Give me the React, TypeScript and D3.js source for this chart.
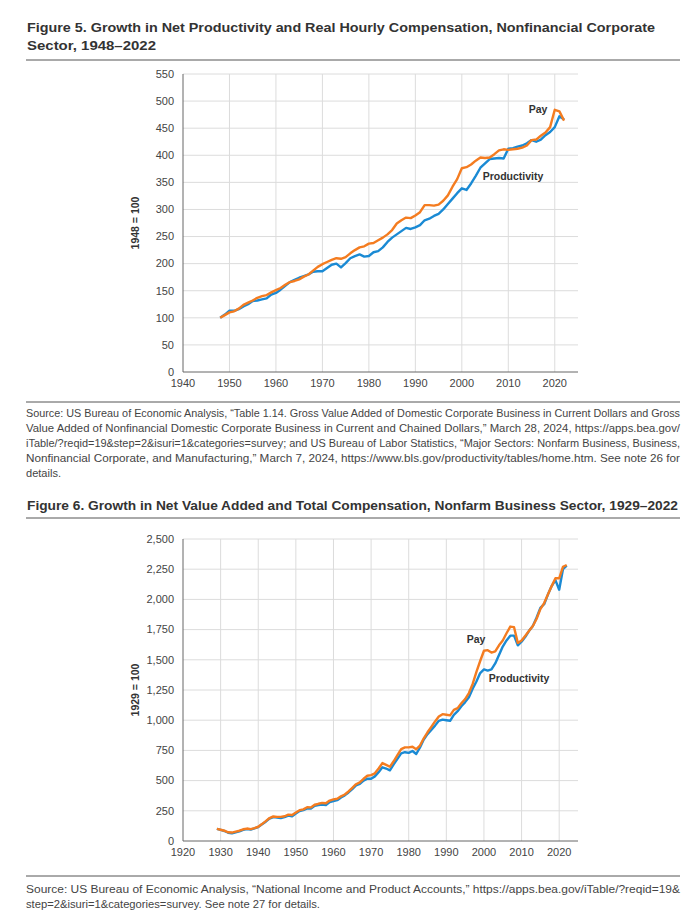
import * as d3 from "d3"

// Figure 5: 1948–2022, nonfinancial corporate sector (1948 = 100)
const years5 = d3.range(1948, 2023)
const productivity5 = [
  100, 106, 113, 113, 116, 121, 125, 131, 132, 134, 136, 143, 146, 152, 159, 166, 170, 174, 177, 180,
  185, 186, 186, 192, 198, 200, 193, 201, 210, 214, 217, 213, 214, 221, 223, 230, 240, 248, 254, 260,
  266, 264, 267, 271, 280, 283, 288, 292, 300, 310, 320, 330, 339, 336, 348, 362, 377, 385, 393, 394,
  395, 394, 412, 413, 416, 418, 422, 428, 425, 429, 437, 443, 452, 472, 466,
]
const pay5 = [
  100, 105, 110, 112, 117, 124, 128, 132, 137, 140, 142, 147, 151, 155, 161, 166, 168, 171, 176, 180,
  187, 194, 199, 203, 207, 210, 209, 212, 219, 225, 230, 232, 237, 238, 243, 248, 254, 262, 274, 280,
  285, 284, 289, 295, 308, 308, 307, 309, 316, 326, 342, 356, 376, 378, 383, 390, 396, 395, 396, 402,
  409, 411, 410, 411, 412, 414, 418, 428, 429, 436, 442, 452, 484, 481, 464,
]
const yTicks5 = d3.range(0, 551, 50)
const xTicks5 = d3.range(1940, 2021, 10)

// Figure 6: 1929–2022, nonfarm business sector (1929 = 100)
const years6 = d3.range(1929, 2023)
const pay6 = [
  100, 93, 85, 72, 70, 78, 85, 97, 103, 98, 107, 118, 140, 165, 190, 203, 200, 200, 205, 218,
  215, 235, 255, 262, 280, 278, 300, 308, 315, 312, 335, 345, 350, 370, 385, 410, 440, 470, 485, 515,
  540, 545, 560, 600, 645, 630, 615, 660, 710, 760, 775, 775, 780, 760, 790, 850, 900, 945, 990, 1030,
  1050, 1045, 1040, 1085, 1100, 1140, 1175, 1225, 1300, 1400, 1490, 1575, 1580, 1560, 1570, 1620, 1660, 1720, 1775, 1770,
  1640, 1660, 1700, 1740, 1780, 1840, 1920, 1970, 2040, 2110, 2175, 2175, 2270, 2285,
]
const productivity6 = [
  100, 92, 83, 68, 63, 72, 80, 92, 98, 95, 105, 115, 138, 160, 185, 198, 195, 190, 198, 210,
  205, 228, 248, 255, 270, 268, 292, 298, 302, 298, 322, 330, 338, 360, 378, 402, 430, 460, 472, 500,
  515, 515, 535, 570, 610, 600, 585, 635, 680, 725, 735, 730, 745, 720, 775, 840, 885, 920, 955, 995,
  1005, 1000, 995, 1045, 1075, 1115, 1150, 1190, 1260, 1320, 1390, 1420, 1410, 1420, 1470, 1540, 1610, 1660, 1700, 1700,
  1620, 1650, 1690, 1740, 1780, 1850, 1930, 1960, 2040, 2110, 2160, 2080, 2250, 2280,
]
const yTicks6 = d3.range(0, 2501, 250)
const xTicks6 = d3.range(1920, 2021, 10)

const source5 = [
  "Source: US Bureau of Economic Analysis, “Table 1.14. Gross Value Added of Domestic Corporate Business in Current Dollars and Gross",
  "Value Added of Nonfinancial Domestic Corporate Business in Current and Chained Dollars,” March 28, 2024, https://apps.bea.gov/",
  "iTable/?reqid=19&step=2&isuri=1&categories=survey; and US Bureau of Labor Statistics, “Major Sectors: Nonfarm Business, Business,",
  "Nonfinancial Corporate, and Manufacturing,” March 7, 2024, https://www.bls.gov/productivity/tables/home.htm. See note 26 for",
  "details.",
]
const source6 = [
  "Source: US Bureau of Economic Analysis, “National Income and Product Accounts,” https://apps.bea.gov/iTable/?reqid=19&",
  "step=2&isuri=1&categories=survey. See note 27 for details.",
]

const ORANGE = "#f47c20"
const BLUE = "#1a8ad4"
const GRID = "#dcdcdc"
const AXIS = "#666"
const TEXT = "#333"
const FONT = "'Liberation Sans', Arial, sans-serif"
const NARROW = "'Liberation Sans Narrow', 'Liberation Sans', Arial, sans-serif"

type PanelProps = {
  top: number
  bottom: number
  xDomain: [number, number]
  xTicks: number[]
  yMax: number
  yTicks: number[]
  yFormat: (v: number) => string
  yLabel: string
  years: number[]
  productivity: number[]
  pay: number[]
  payLabel: [number, number]
  prodLabel: [number, number]
}

function Panel(p: PanelProps) {
  const left = 183
  const right = 578
  const x = d3.scaleLinear().domain(p.xDomain).range([left, right])
  const y = d3.scaleLinear().domain([0, p.yMax]).range([p.bottom, p.top])
  const line = d3
    .line<number>()
    .x((_, i) => x(p.years[i]))
    .y((d) => y(d))
    .curve(d3.curveLinear)

  return (
    <g>
      {p.yTicks.map((t) => (
        <g key={"y" + t}>
          {t > 0 && <line x1={left} x2={right} y1={y(t)} y2={y(t)} stroke={GRID} strokeWidth={1} />}
          <text x={left - 9} y={y(t)} dy="0.35em" textAnchor="end" fontSize={11} fill="#444" fontFamily={FONT}>
            {p.yFormat(t)}
          </text>
        </g>
      ))}
      {p.xTicks.map((t) => (
        <g key={"x" + t}>
          {t > p.xDomain[0] && <line x1={x(t)} x2={x(t)} y1={p.top} y2={p.bottom} stroke={GRID} strokeWidth={1} />}
          <text x={x(t)} y={p.bottom + 15} textAnchor="middle" fontSize={11} fill="#444" fontFamily={FONT}>
            {t}
          </text>
        </g>
      ))}
      <line x1={left} x2={left} y1={p.top} y2={p.bottom} stroke={AXIS} strokeWidth={1} />
      <line x1={left} x2={right} y1={p.bottom} y2={p.bottom} stroke={AXIS} strokeWidth={1} />
      <text
        transform={`translate(135, ${(p.top + p.bottom) / 2}) rotate(-90)`}
        textAnchor="middle"
        dy="0.35em"
        fontSize={10.5}
        fontWeight={700}
        fill={TEXT}
        fontFamily={FONT}
      >
        {p.yLabel}
      </text>
      <path d={line(p.productivity) ?? ""} fill="none" stroke={BLUE} strokeWidth={2.4} strokeLinejoin="round" />
      <path d={line(p.pay) ?? ""} fill="none" stroke={ORANGE} strokeWidth={2.4} strokeLinejoin="round" />
      <text x={p.payLabel[0]} y={p.payLabel[1]} dy="0.35em" textAnchor="middle" fontSize={10.5} fontWeight={700} fill={TEXT} fontFamily={FONT}>
        Pay
      </text>
      <text x={p.prodLabel[0]} y={p.prodLabel[1]} dy="0.35em" textAnchor="middle" fontSize={10.5} fontWeight={700} fill={TEXT} fontFamily={FONT}>
        Productivity
      </text>
    </g>
  )
}

function Title({ lines, y, widths }: { lines: string[]; y: number; widths: (number | undefined)[] }) {
  return (
    <g>
      {lines.map((l, i) => (
        <text
          key={i}
          x={27}
          y={y + i * 18}
          fontSize={13}
          fontWeight={700}
          fill={TEXT}
          fontFamily={FONT}
          textLength={widths[i]}
          lengthAdjust="spacingAndGlyphs"
        >
          {l}
        </text>
      ))}
    </g>
  )
}

function Source({ lines, y, widths }: { lines: string[]; y: number; widths: number[] }) {
  return (
    <g>
      {lines.map((l, i) => (
        <text
          key={i}
          x={26}
          y={y + i * 15}
          fontSize={10.5}
          fill="#444"
          fontFamily={NARROW}
          textLength={widths[i]}
          lengthAdjust="spacingAndGlyphs"
        >
          {l}
        </text>
      ))}
    </g>
  )
}

const fmtComma = d3.format(",")

export default function App() {
  return (
    <svg
      width={700}
      height={914}
      style={{ position: "absolute", left: 0, top: 0, background: "#fff" }}
    >
      <Title
        lines={["Figure 5. Growth in Net Productivity and Real Hourly Compensation, Nonfinancial Corporate", "Sector, 1948–2022"]}
        y={32}
        widths={[628, 129]}
      />
      <line x1={26} x2={680} y1={60} y2={60} stroke="#555" strokeWidth={1} />
      <Panel
        top={74}
        bottom={372}
        xDomain={[1940, 2025]}
        xTicks={xTicks5}
        yMax={550}
        yTicks={yTicks5}
        yFormat={(v) => String(v)}
        yLabel="1948 = 100"
        years={years5}
        productivity={productivity5}
        pay={pay5}
        payLabel={[538, 109]}
        prodLabel={[513, 176]}
      />
      <line x1={26} x2={680} y1={402} y2={402} stroke="#555" strokeWidth={1} />
      <Source lines={source5} y={417} widths={[654, 654, 654, 654, 35]} />

      <Title
        lines={["Figure 6. Growth in Net Value Added and Total Compensation, Nonfarm Business Sector, 1929–2022"]}
        y={510}
        widths={[651]}
      />
      <line x1={26} x2={680} y1={518} y2={518} stroke="#555" strokeWidth={1} />
      <Panel
        top={539}
        bottom={841}
        xDomain={[1920, 2025]}
        xTicks={xTicks6}
        yMax={2500}
        yTicks={yTicks6}
        yFormat={fmtComma}
        yLabel="1929 = 100"
        years={years6}
        productivity={productivity6}
        pay={pay6}
        payLabel={[476, 639]}
        prodLabel={[519, 678]}
      />
      <line x1={26} x2={680} y1={876} y2={876} stroke="#555" strokeWidth={1} />
      <Source lines={source6} y={893} widths={[654, 294]} />
    </svg>
  )
}
